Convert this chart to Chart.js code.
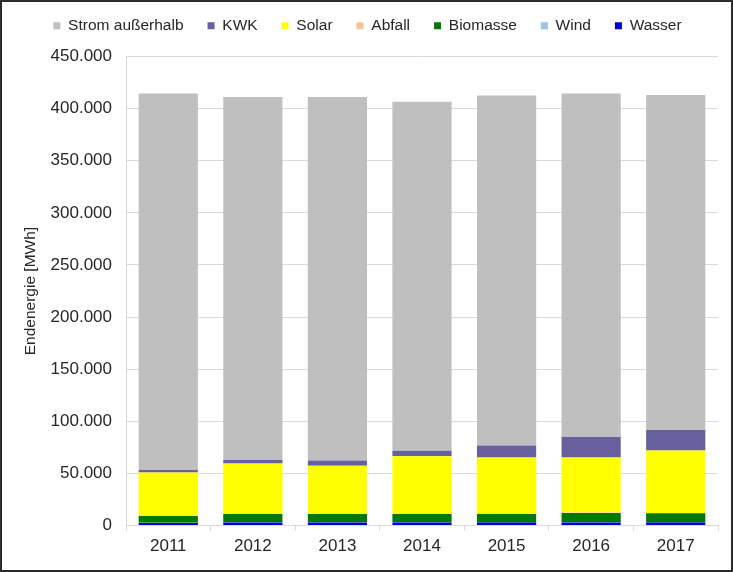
<!DOCTYPE html>
<html>
<head>
<meta charset="utf-8">
<script src="https://cdn.jsdelivr.net/npm/chart.js@4"></script>
<style>
  html, body { margin: 0; padding: 0; background: #fff; }
  #box { width: 733px; height: 572px; box-sizing: border-box; border: 2px solid #2b2b2b; position: relative; }
  #box canvas { position: absolute; left: 0; top: 0; }
</style>
</head>
<body>
<div id="box"><canvas id="chart" width="729" height="568"></canvas></div>
<script>
// Endenergie je Jahr [MWh]
const years = ['2011', '2012', '2013', '2014', '2015', '2016', '2017'];
const wasser   = [2600, 3000, 3000, 3000, 2900, 3000, 2900];
const wind     = [100, 100, 100, 100, 100, 100, 100];
const biomasse = [6600, 8100, 8100, 8100, 8200, 9100, 8800];
const abfall   = [300, 300, 300, 300, 300, 300, 300];
const solar    = [41300, 48000, 45800, 55000, 53800, 52800, 59900];
const kwk      = [2500, 3500, 5100, 5200, 11500, 19800, 19800];
const strom    = [361000, 348100, 348700, 335000, 335700, 329300, 321200];

const yTicks = [0, 50000, 100000, 150000, 200000, 250000, 300000, 350000, 400000, 450000];

// 450000 -> "450.000"
const fmt = v => String(v).replace(/\B(?=(\d{3})+(?!\d))/g, '.');

const grid = '#d9d9d9';
const family = '"Liberation Sans", Arial, sans-serif';
const font = { family: family, size: 17 };
const legendFont = { family: family, size: 15.5 };

// Reihenfolge im Stapel: unten zuerst
const series = [
  { label: 'Wasser', data: wasser, backgroundColor: '#0000d8' },
  { label: 'Wind', data: wind, backgroundColor: '#9dc3e6' },
  { label: 'Biomasse', data: biomasse, backgroundColor: '#007a00' },
  { label: 'Abfall', data: abfall, backgroundColor: '#f8c197' },
  { label: 'Solar', data: solar, backgroundColor: '#ffff00' },
  { label: 'KWK', data: kwk, backgroundColor: '#67609e' },
  { label: 'Strom außerhalb', data: strom, backgroundColor: '#bfbfbf' }
];

// Legende etwas höher setzen als Chart.js es tut
const legendHeight = {
  id: 'legendHeight',
  beforeInit(chart) {
    const fit = chart.legend.fit;
    chart.legend.fit = function () { fit.call(this); this.height += 13; };
  }
};

const ctx = document.getElementById('chart').getContext('2d');
new Chart(ctx, {
  type: 'bar',
  data: {
    labels: years,
    datasets: series.map(s => ({ ...s, borderWidth: 0, barPercentage: 0.7, categoryPercentage: 1 }))
  },
  plugins: [legendHeight],
  options: {
    responsive: false,
    animation: false,
    layout: { padding: { left: 15, right: 13, top: -8, bottom: 7 } },
    plugins: {
      tooltip: { enabled: false },
      legend: {
        position: 'top',
        reverse: true,
        labels: {
          font: legendFont,
          color: '#262626',
          boxWidth: 7,
          boxHeight: 7,
          padding: 24
        }
      }
    },
    scales: {
      x: {
        stacked: true,
        grid: { display: true, drawOnChartArea: false, drawTicks: true, tickLength: 5, color: grid },
        border: { color: grid },
        ticks: { font: font, color: '#262626', padding: 6 }
      },
      y: {
        stacked: true,
        min: 0,
        max: 450000,
        afterBuildTicks: scale => { scale.ticks = yTicks.map(v => ({ value: v })); },
        afterFit: scale => { scale.width = 109; },
        grid: { color: grid, drawTicks: false },
        border: { color: grid },
        ticks: { font: font, color: '#262626', padding: 14, callback: v => fmt(v) },
        title: { display: true, text: 'Endenergie [MWh]', font: legendFont, color: '#262626', padding: { bottom: 6 } }
      }
    }
  }
});
</script>
</body>
</html>
